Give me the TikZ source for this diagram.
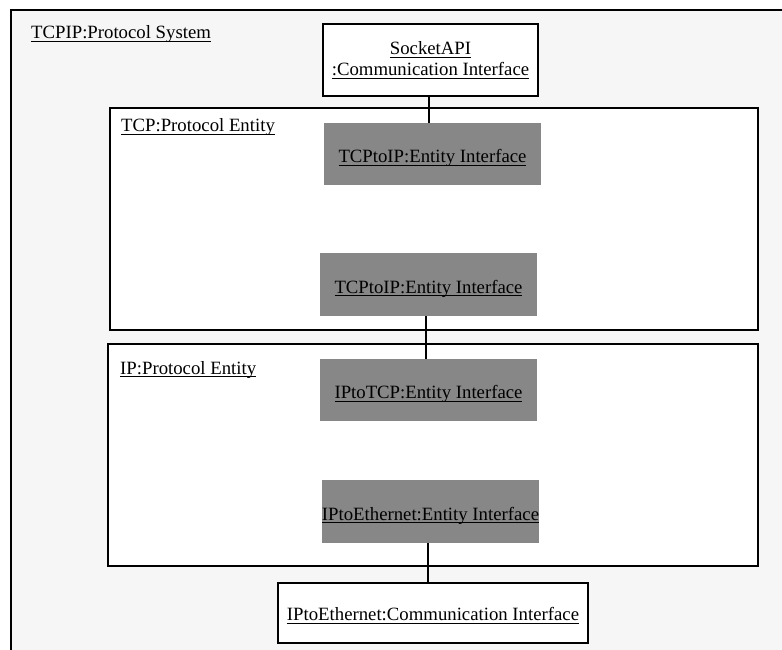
\documentclass[tikz,border=0pt]{standalone}
\usepackage{fontspec}
\setmainfont{Liberation Serif}
\definecolor{sysbg}{HTML}{F6F6F6}
\definecolor{ifgray}{HTML}{878787}
% underlined text with a thin rule just below the baseline
\newcommand\ulx[1]{\leavevmode\setbox0=\hbox{#1}\rlap{\rule[-3pt]{\wd0}{0.9pt}}\box0}
\begin{document}
\begin{tikzpicture}[x=1pt,y=-1pt,
  every node/.style={font=\fontsize{18.75}{21}\selectfont},
  frame/.style={draw=black,line width=1.9pt},
  container/.style={frame,fill=white,inner sep=0pt},
  entityif/.style={fill=ifgray,inner sep=0pt,minimum width=217pt,minimum height=62pt,
    text height=17pt,text depth=0pt},
  commif/.style={frame,fill=white,inner sep=0pt},
  title/.style={anchor=base west,inner sep=0pt},
  link/.style={line width=1.9pt}]
\useasboundingbox (0,0) rectangle (782,650);
\clip (0,0) rectangle (782,650);
\fill[white] (0,0) rectangle (782,650);

% protocol system frame (continues past the right and bottom edges)
\fill[sysbg] (11,10) rectangle (790,660);
\draw[frame] (790,10) -- (11,10) -- (11,660);
\node[title] (systitle) at (31,39) {\ulx{TCPIP:Protocol System}};

% socket interface
\node[commif,minimum width=215pt,minimum height=72pt,align=center] (socket) at (430.5,60)
  {\ulx{SocketAPI}\\\ulx{:Communication Interface}};

% TCP entity
\node[container,minimum width=648pt,minimum height=222pt] (tcp) at (434,219) {};
\node[title] (tcptitle) at (121,132) {\ulx{TCP:Protocol Entity}};
\node[entityif] (tcpA) at (432.5,154) {\ulx{TCPtoIP:Entity Interface}};
\node[entityif,minimum height=63pt] (tcpB) at (428.5,284.5) {\ulx{TCPtoIP:Entity Interface}};

% IP entity
\node[container,minimum width=650pt,minimum height=222pt] (ip) at (433,455) {};
\node[title] (iptitle) at (120,374) {\ulx{IP:Protocol Entity}};
\node[entityif] (ipA) at (428.5,390) {\ulx{IPtoTCP:Entity Interface}};
\node[entityif,minimum height=63pt] (ipB) at (430.5,511.5) {\ulx{IPtoEthernet:Entity Interface}};

% ethernet interface
\node[commif,minimum width=310pt,minimum height=60pt,text height=15pt,text depth=0pt] (eth) at (433,613)
  {\ulx{IPtoEthernet:Communication Interface}};

% links between interfaces
\draw[link] ([xshift=-1.5pt]socket.south) -- ([xshift=-1.5pt]socket.south |- tcpA.north);
\draw[link] ([xshift=-2.5pt]tcpB.south) -- ([xshift=-2.5pt]tcpB.south |- ipA.north);
\draw[link] ([xshift=-2.5pt]ipB.south) -- ([xshift=-2.5pt]ipB.south |- eth.north);
\end{tikzpicture}
\end{document}
